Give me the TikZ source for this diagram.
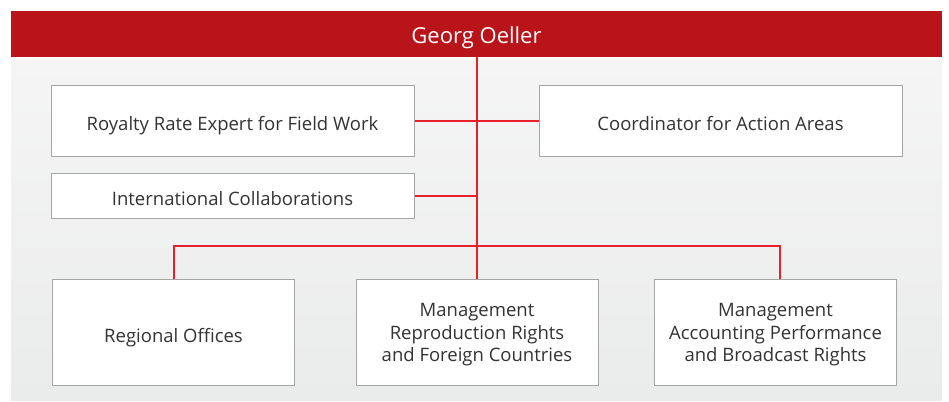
\documentclass[tikz,border=0pt]{standalone}
\usepackage{fontspec}
\setmainfont{Open Sans}
\usetikzlibrary{positioning}
\definecolor{colorhead}  {RGB}{185,20 ,26 }
\definecolor{colorline}  {RGB}{232,32 ,42 }
\definecolor{colorframe} {RGB}{165,165,165}
\definecolor{colorbgtop} {RGB}{245,245,245}
\definecolor{colorbgbot} {RGB}{234,235,235}
\definecolor{colortext}  {RGB}{51 ,51 ,51 }

\begin{document}
\begin{tikzpicture}[
    x=1pt, y=-1pt,
    base/.style={text=colortext,font={\fontsize{18.5}{22.5}\selectfont},inner sep=0pt,align=center,rectangle},
    oneline/.style={text height=19pt,text depth=0pt},
    unit/.style={base,draw=colorframe,line width=1pt,fill=white,minimum width=363pt},
    dept/.style={unit,text depth=0pt,minimum width=242pt,minimum height=106pt},
    link/.style={colorline,line width=2pt},
]
    \useasboundingbox (0,0) rectangle (949,401);

    % Background
    \shade[top color=colorbgtop,bottom color=colorbgbot] (11,61) rectangle (942,400);
    \node[base,fill=colorhead,text=white,font={\fontsize{22}{26}\selectfont},text height=20pt,text depth=0pt,minimum width=931pt,minimum height=46pt] at (476.5,34) (head) {Georg Oeller};

    % Staff units
    \node[unit,oneline,minimum height=70pt] at (232.5,121) (royalty) {Royalty Rate Expert for Field Work};
    \node[unit,oneline,minimum height=70pt] at (720.5,121) (coord) {Coordinator for Action Areas};
    \node[unit,oneline,minimum height=45pt] at (232.5,195.5) (intl) {International Collaborations};

    % Departments
    \node[dept,oneline] at (173.5,332.5) (regional) {Regional Offices};
    \node[dept] at (477,332.5) (reprod) {Management\\Reproduction Rights\\and Foreign Countries};
    \node[dept] at (775.5,332.5) (account) {Management\\Accounting Performance\\and Broadcast Rights};

    % Lines
    \draw[link] (reprod.north |- head.south) -- (reprod.north);
    \draw[link] (royalty.east) -- (coord.west);
    \draw[link] (intl.east) -- (intl.east -| reprod.north);
    \draw[link] (regional.north) -- ++(0,-33) -| ([xshift=4pt]account.north);

\end{tikzpicture}
\end{document}
